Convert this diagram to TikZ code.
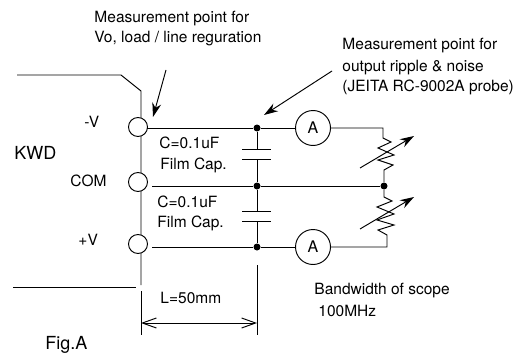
\documentclass[tikz,border=0pt]{standalone}
\usepackage{fontspec}
\setmainfont{TeX Gyre Heros}
\usetikzlibrary{arrows.meta}
\tikzset{
  lbl/.style={anchor=base west,inner sep=0pt,font=\fontsize{15.5}{18}\selectfont},
  big/.style={font=\fontsize{18}{20}\selectfont},
  pin/.style={draw,circle,fill=white,inner sep=0pt,minimum size=19pt},
  meter/.style={draw,circle,fill=white,inner sep=0pt,minimum size=35pt,font=\fontsize{16}{18}\selectfont},
  dot/.style={circle,fill=black,inner sep=0pt,minimum size=7pt},
  point/.style={-{Stealth[length=14pt,width=9pt]}},
  dim/.style={{Straight Barb[length=14pt,width=10pt]}-{Straight Barb[length=14pt,width=10pt]}}
}
\begin{document}
\begin{tikzpicture}[x=1pt,y=-1pt,line width=0.95pt]
  \useasboundingbox (0,0) rectangle (522,353);
  % converter outline
  \coordinate (topl) at (17,75);
  \coordinate (bend) at (121,75);
  \coordinate (edge) at (141,91);
  \coordinate (edgeb) at (141,285);
  \coordinate (botl) at (13,287);
  \coordinate (botr) at (136,287);
  \draw (topl) -- (bend) -- (edge) -- (edgeb);
  \draw (botl) -- (botr);
  \node[pin] (vm) at (138,127) {};
  \node[pin] (com) at (138,182) {};
  \node[pin] (vp) at (138,244) {};
  \node[lbl] at (84,127) {-V};
  \node[lbl] at (70,186) {COM};
  \node[lbl] at (78,245) {+V};
  \node[lbl,big] at (14,159) {KWD};
  % wires
  \node[dot] (dvm) at (257,128) {};
  \node[dot] (dcom) at (257,186) {};
  \node[dot] (dvp) at (257,247) {};
  \node[dot] (dr) at (384,186) {};
  \node[meter] (am) at (313,128) {A};
  \node[meter] (ap) at (313,247) {A};
  \coordinate (vmw) at (147,128);
  \coordinate (comw) at (152,186);
  \coordinate (vpw) at (152,247);
  \draw (vmw) -- (dvm) -- (am);
  \draw (comw) -- (dcom) -- (dr);
  \draw (vpw) -- (dvp) -- (ap);
  % capacitors
  \coordinate (c1a) at (257,149);
  \coordinate (c1b) at (257,159);
  \coordinate (c2a) at (257,211);
  \coordinate (c2b) at (257,221);
  \draw (dvm) -- (c1a);
  \draw (c1b) -- (dcom) -- (c2a);
  \draw (c2b) -- (dvp);
  \draw (242,149) -- (271,149);
  \draw (242,159) -- (271,159);
  \draw (242,211) -- (271,211);
  \draw (242,221) -- (271,221);
  \node[lbl] at (159,148) {C=0.1uF};
  \node[lbl] at (160,169) {Film Cap.};
  \node[lbl] at (157,207) {C=0.1uF};
  \node[lbl] at (157,227) {Film Cap.};
  % loads
  \draw (am) -- (383,128) -- (383,138) -- (391,142) -- (378,148) -- (394,155) -- (378,160) -- (393,165) -- (384,170) -- (dr);
  \draw (dr) -- (384,197) -- (392,201) -- (377,207) -- (394,214) -- (377,220) -- (394,225) -- (378,230) -- (387,235) -- (387,247) -- (ap);
  \draw[point] (360,168) -- (414,136);
  \draw[point] (360,229) -- (414,197);
  % length of the probe
  \coordinate (la) at (141,291);
  \coordinate (lb) at (141,335);
  \coordinate (lc) at (257,265);
  \coordinate (ld) at (257,335);
  \coordinate (da) at (141,323);
  \coordinate (db) at (257,323);
  \draw (la) -- (lb);
  \draw (lc) -- (ld);
  \draw[dim] (da) -- (db);
  \node[lbl] at (160,303) {L=50mm};
  \node[lbl,big] at (45,349) {Fig.A};
  % notes
  \node[lbl] at (94,23) {Measurement point for};
  \node[lbl] at (94,43) {Vo, load / line reguration};
  \coordinate (n1a) at (166,70);
  \coordinate (n1b) at (153,117);
  \draw[point] (n1a) -- (n1b);
  \node[lbl] at (342,49) {Measurement point for};
  \node[lbl] at (342,71) {output ripple \& noise};
  \node[lbl] at (342,92) {(JEITA RC-9002A probe)};
  \coordinate (n2a) at (332,71);
  \coordinate (n2b) at (264,115);
  \draw[point] (n2a) -- (n2b);
  \node[lbl] at (314,294) {Bandwidth of scope};
  \node[lbl] at (318,316) {100MHz};
\end{tikzpicture}
\end{document}
